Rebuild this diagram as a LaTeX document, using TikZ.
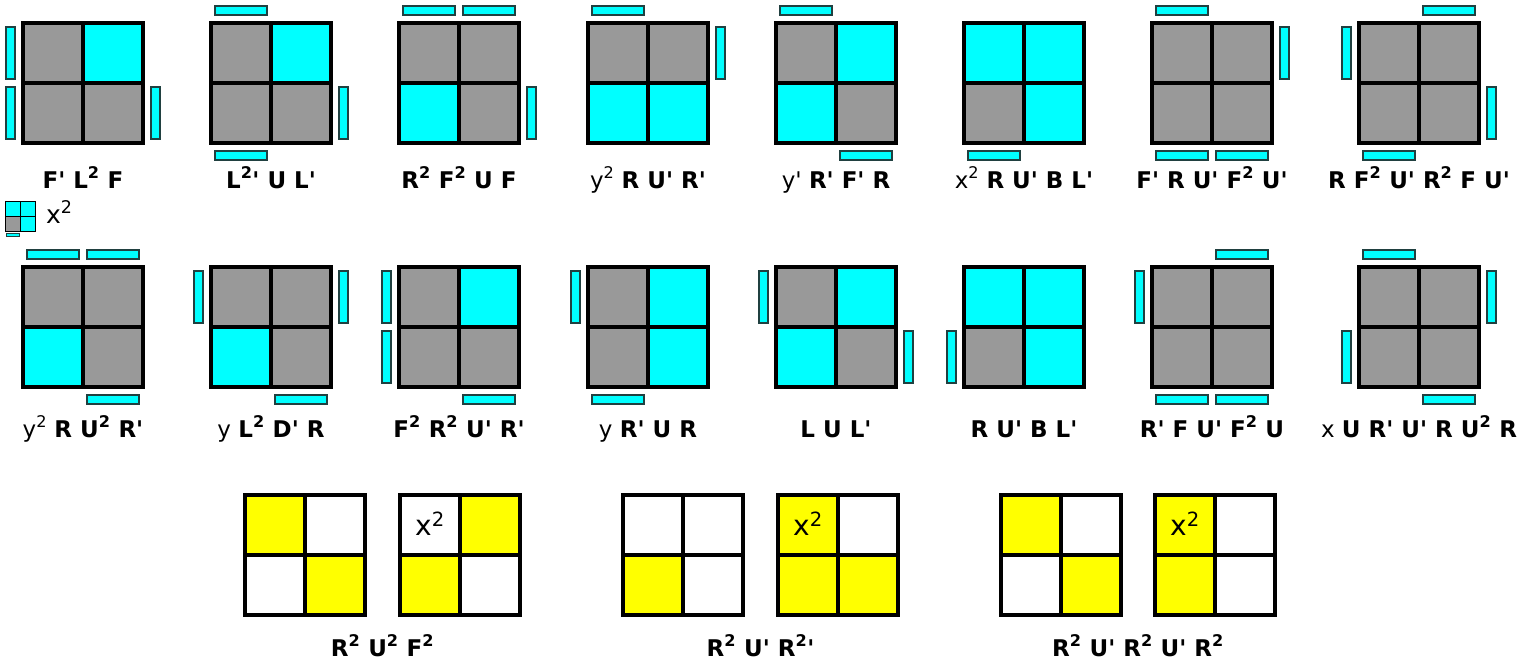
\documentclass[tikz,border=0pt]{standalone}
\usepackage{fontspec}
\setmainfont{DejaVu Sans}
\usepackage{tikz}

\definecolor{facegray}{RGB}{153,153,153}
\definecolor{facecyan}{RGB}{0,255,255}
\definecolor{faceyellow}{RGB}{255,255,0}
\definecolor{stkedge}{RGB}{32,64,64}

\tikzset{
  cubegrid/.style={draw=black, line width=4pt},
  sticker/.style={fill=facecyan, draw=stkedge, line width=1.8pt},
  alg/.style={anchor=base, font=\fontsize{23}{28}\selectfont, inner sep=0pt},
  rot/.style={font=\fontsize{28}{32}\selectfont, inner sep=0pt},
}

% one 2x2 face: x, y, base colour, marks
\newcommand{\face}[4]{%
  \begin{scope}[shift={(#1,#2)}]
    \fill[#3] (0,0) rectangle (120,120);
    #4
    \draw[cubegrid] (0,0) rectangle (120,120) (60,0) -- (60,120) (0,60) -- (120,60);
  \end{scope}}
\newcommand{\hi}[3][facecyan]{\fill[#1] ({60*#2},{60*#3}) rectangle ++(60,60);}
\newcommand{\stkT}[1]{\draw[sticker] ({3.75+60*#1},-17.25) rectangle ++(52.5,9.5);}
\newcommand{\stkB}[1]{\draw[sticker] ({3.75+60*#1},127.75) rectangle ++(52.5,9.5);}
\newcommand{\stkL}[1]{\draw[sticker] (-17.25,{3.75+60*#1}) rectangle ++(9.5,52.5);}
\newcommand{\stkR}[1]{\draw[sticker] (127.75,{3.75+60*#1}) rectangle ++(9.5,52.5);}
\newcommand{\prm}{\textquotesingle}

\begin{document}
\begin{tikzpicture}[x=1pt, y=-1pt]
\useasboundingbox (0,0) rectangle (1538,661);

% Row 1
\face{23}{23}{facegray}{\hi10 \stkL0 \stkL1 \stkR1}
\face{211}{23}{facegray}{\hi10 \stkT0 \stkR1 \stkB0}
\face{399}{23}{facegray}{\hi01 \stkT0 \stkT1 \stkR1}
\face{588}{23}{facegray}{\hi01 \hi11 \stkT0 \stkR0}
\face{776}{23}{facegray}{\hi10 \hi01 \stkT0 \stkB1}
\face{964}{23}{facegray}{\hi00 \hi10 \hi11 \stkB0}
\face{1152}{23}{facegray}{\stkT0 \stkR0 \stkB0 \stkB1}
\face{1359}{23}{facegray}{\stkT1 \stkL0 \stkR1 \stkB0}

\foreach \x/\lbl [count=\n] in {
    83/{\textbf{F\prm{} L\textsuperscript{2} F}},
    271/{\textbf{L\textsuperscript{2}\prm{} U L\prm}},
    459/{\textbf{R\textsuperscript{2} F\textsuperscript{2} U F}},
    648/{y\textsuperscript{2} \textbf{R U\prm{} R\prm}},
    836/{y\prm{} \textbf{R\prm{} F\prm{} R}},
    1024/{x\textsuperscript{2} \textbf{R U\prm{} B L\prm}},
    1212/{\textbf{F\prm{} R U\prm{} F\textsuperscript{2} U\prm}},
    1419/{\textbf{R F\textsuperscript{2} U\prm{} R\textsuperscript{2} F U\prm}}}
  \node[alg] (top\n) at (\x,188) {\lbl};

% small key: whole cube turned over
\begin{scope}[shift={(5.5,201.5)}, scale=0.25,
    cubegrid/.style={draw=black, line width=1pt},
    sticker/.style={fill=facecyan, draw=stkedge, line width=0.5pt}]
  \face{0}{0}{facegray}{\hi00 \hi10 \hi11 \stkB0}
\end{scope}
\node[alg, anchor=base west, font=\fontsize{25}{30}\selectfont] (key) at (46,223) {x\textsuperscript{2}};

% Row 2
\face{23}{267}{facegray}{\hi01 \stkT0 \stkT1 \stkB1}
\face{211}{267}{facegray}{\hi01 \stkL0 \stkR0 \stkB1}
\face{399}{267}{facegray}{\hi10 \stkL0 \stkL1 \stkB1}
\face{588}{267}{facegray}{\hi10 \hi11 \stkL0 \stkB0}
\face{776}{267}{facegray}{\hi10 \hi01 \stkL0 \stkR1}
\face{964}{267}{facegray}{\hi00 \hi10 \hi11 \stkL1}
\face{1152}{267}{facegray}{\stkT1 \stkL0 \stkB0 \stkB1}
\face{1359}{267}{facegray}{\stkT0 \stkR0 \stkL1 \stkB1}

\foreach \x/\lbl [count=\n] in {
    83/{y\textsuperscript{2} \textbf{R U\textsuperscript{2} R\prm}},
    271/{y \textbf{L\textsuperscript{2} D\prm{} R}},
    459/{\textbf{F\textsuperscript{2} R\textsuperscript{2} U\prm{} R\prm}},
    648/{y \textbf{R\prm{} U R}},
    836/{\textbf{L U L\prm}},
    1024/{\textbf{R U\prm{} B L\prm}},
    1212/{\textbf{R\prm{} F U\prm{} F\textsuperscript{2} U}},
    1419/{x \textbf{U R\prm{} U\prm{} R U\textsuperscript{2} R}}}
  \node[alg] (mid\n) at (\x,437) {\lbl};

% Row 3: yellow pairs
\face{245}{495}{white}{\hi[faceyellow]00 \hi[faceyellow]11}
\face{400}{495}{white}{\hi[faceyellow]10 \hi[faceyellow]01}
\face{623}{495}{white}{\hi[faceyellow]01}
\face{778}{495}{white}{\hi[faceyellow]00 \hi[faceyellow]01 \hi[faceyellow]11}
\face{1001}{495}{white}{\hi[faceyellow]00 \hi[faceyellow]11}
\face{1155}{495}{white}{\hi[faceyellow]00 \hi[faceyellow]01}

\node[rot] (turnA) at (430,524) {x\textsuperscript{2}};
\node[rot] (turnB) at (808,524) {x\textsuperscript{2}};
\node[rot] (turnC) at (1185,524) {x\textsuperscript{2}};

\node[alg] (low1) at (382.5,656) {\textbf{R\textsuperscript{2} U\textsuperscript{2} F\textsuperscript{2}}};
\node[alg] (low2) at (760.5,656) {\textbf{R\textsuperscript{2} U\prm{} R\textsuperscript{2}\prm}};
\node[alg] (low3) at (1138,656) {\textbf{R\textsuperscript{2} U\prm{} R\textsuperscript{2} U\prm{} R\textsuperscript{2}}};
\end{tikzpicture}
\end{document}
